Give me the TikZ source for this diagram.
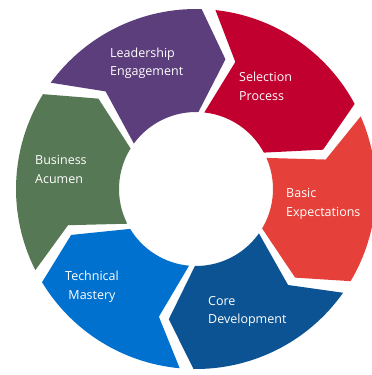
\documentclass[tikz,border=0pt]{standalone}
\usepackage{fontspec}
\setmainfont{Open Sans}
\definecolor{cLead}{HTML}{5C3E7C}
\definecolor{cSel}{HTML}{C1002F}
\definecolor{cBasic}{HTML}{E5413A}
\definecolor{cCore}{HTML}{0C5394}
\definecolor{cTech}{HTML}{0071CE}
\definecolor{cBus}{HTML}{567855}
\tikzset{
  lbl/.style={text=white, font=\fontsize{12.5}{18.5}\selectfont, inner sep=0pt, anchor=west, align=left},
}
\newcommand{\segR}{180}
\newcommand{\segr}{77}
\newcommand{\segm}{133}
\newcommand{\segg}{2.2}
\newcommand{\segd}{11}
\begin{document}
\begin{tikzpicture}[x=1pt,y=1pt]
\useasboundingbox (-196,-186) rectangle (176,189);
\foreach \a/\b/\c in {146/86/cLead, 86/26/cSel, 26/-33/cBasic, -33/-93/cCore, -93/-151/cTech, -151/-214/cBus}{
  \fill[\c] (\a-\segg:\segR) arc[start angle=\a-\segg, end angle=\b+\segg, radius=\segR]
    -- (\b+\segg-\segd:\segm) -- (\b+\segg:\segr)
    arc[start angle=\b+\segg, end angle=\a-\segg, radius=\segr]
    -- (\a-\segg-\segd:\segm) -- cycle;
}
\node[lbl] (lead) at (-86,125.5) {Leadership\\Engagement};
\node[lbl] (sel) at (43,102.5) {Selection\\Process};
\node[lbl] (basic) at (90,-15) {Basic\\Expectations};
\node[lbl] (bus) at (-161,19.5) {Business\\Acumen};
\node[lbl, anchor=center, align=center] (tech) at (-104,-98) {Technical\\Mastery};
\node[lbl] (core) at (12,-122.5) {Core\\Development};
\end{tikzpicture}
\end{document}
